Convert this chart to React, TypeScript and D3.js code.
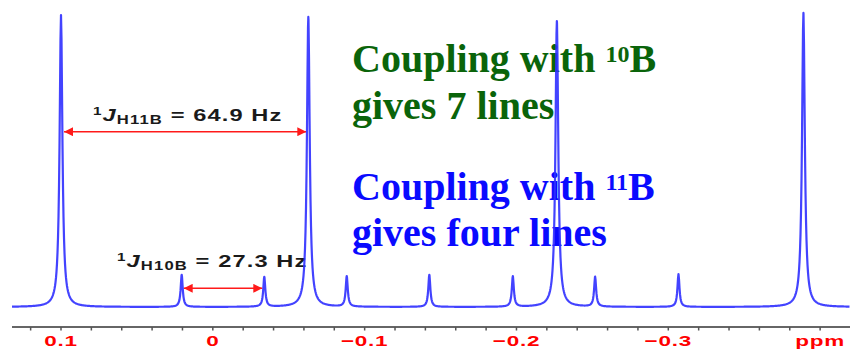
import React from "react";
import * as d3 from "d3";

// Peak list (ppm, relative intensity)
const peakShifts = [0.1, 0.0205, -0.0339, -0.0629, -0.0882, -0.1426, -0.1976, -0.2266, -0.2518, -0.3067, -0.389];
const peakIntensities = [100, 11.0, 10.2, 99.3, 10.4, 11.0, 10.4, 97.9, 10.2, 11.2, 100.7];
const peakIsotope = ["11B", "10B", "10B", "11B", "10B", "10B", "10B", "11B", "10B", "10B", "11B"];

const majorTicks = [0.1, 0, -0.1, -0.2, -0.3, -0.4];
const tickLabels = ["0.1", "0", "\u22120.1", "\u22120.2", "\u22120.3", "ppm"];
const minorTicks = d3.range(-20, 7).map((i) => i * 0.02);

const W = 852;
const H = 350;

export default function App() {
  const x = d3.scaleLinear().domain([0.1, -0.3]).range([61, 668.3]);
  const y = d3.scaleLinear().domain([0, 100]).range([307, 15]);

  const halfWidth = (iso: string) => (iso === "11B" ? 0.0011 : 0.0008);

  const intensityAt = (ppm: number) =>
    peakShifts.reduce((s, p, i) => {
      const g = halfWidth(peakIsotope[i]);
      return s + (peakIntensities[i] * g * g) / ((ppm - p) * (ppm - p) + g * g);
    }, 0);

  const xs = d3.range(12, 850, 0.5).map((px) => x.invert(px)).concat(peakShifts);
  xs.sort((a, b) => b - a);
  const line = d3
    .line<number>()
    .x((d) => x(d))
    .y((d) => y(intensityAt(d)));

  const ax = 327;
  const j11 = [peakShifts[0], peakShifts[3]];
  const j10 = [peakShifts[1], peakShifts[2]];

  const jLabel = (x0: number, y0: number, sub: string, val: string) => (
    <g transform={`translate(${x0},${y0}) scale(1.39,1)`}>
      <text x={0} y={0} fontSize={17} letterSpacing={0.8}>
        <tspan fontSize={11} dy={-6}>1</tspan>
        <tspan fontStyle="italic" dy={6}>J</tspan>
        <tspan fontSize={12} dy={3}>{sub}</tspan>
        <tspan dy={-3}>{` = ${val} Hz`}</tspan>
      </text>
    </g>
  );

  return (
    <svg width={W} height={H} style={{ position: "absolute", left: 0, top: 0, background: "#fff" }}>
      <defs>
        <marker id="ah" viewBox="0 0 10 10" refX="10" refY="5" markerWidth="12" markerHeight="9" markerUnits="userSpaceOnUse" orient="auto-start-reverse">
          <path d="M0,0 L10,5 L0,10 z" fill="#ff1a1a" />
        </marker>
      </defs>

      {/* explanatory text */}
      <g fontFamily="'Liberation Serif', 'Times New Roman', serif" fontWeight="bold" fontSize={40}>
        <text x={352} y={72} fill="#0a640a">
          Coupling with <tspan fontSize={24} dy={-10}>10</tspan>
          <tspan dy={10}>B</tspan>
        </text>
        <text x={352} y={119} fill="#0a640a">gives 7 lines</text>
        <text x={352} y={200} fill="#0a0aff">
          Coupling with <tspan fontSize={24} dy={-10}>11</tspan>
          <tspan dy={10}>B</tspan>
        </text>
        <text x={352} y={246} fill="#0a0aff">gives four lines</text>
      </g>

      {/* coupling constant annotations */}
      <g fontFamily="'Liberation Sans', Arial, sans-serif" fontWeight="bold" fill="#1a1a1a">
        {jLabel(93, 121, "H11B", "64.9")}
        {jLabel(117, 267, "H10B", "27.3")}
      </g>
      <line x1={x(j11[0]) + 3} x2={x(j11[1]) - 2} y1={131.7} y2={131.7} stroke="#ff1a1a" strokeWidth={1.6} markerStart="url(#ah)" markerEnd="url(#ah)" />
      <line x1={x(j10[0]) + 2} x2={x(j10[1]) - 2} y1={288.3} y2={288.3} stroke="#ff1a1a" strokeWidth={1.6} markerStart="url(#ah)" markerEnd="url(#ah)" />

      {/* spectrum */}
      <path d={line(xs) || ""} fill="none" stroke="#2f2fff" strokeOpacity={0.9} strokeWidth={2.2} strokeLinejoin="round" />

      {/* axis */}
      <line x1={12} x2={850} y1={ax} y2={ax} stroke="#666" strokeWidth={2} />
      {minorTicks.map((t) => (
        <line key={t} x1={x(t)} x2={x(t)} y1={ax} y2={ax + 3.5} stroke="#555" strokeWidth={1.5} />
      ))}
      <g fontFamily="'Liberation Sans', Arial, sans-serif" fontWeight="bold" fontSize={15} fill="#ff0000" textAnchor="middle">
        {majorTicks.map((t, i) => (
          <g key={t} transform={`translate(${x(t)},345.5) scale(1.5,1)`}>
            <text x={0} y={0} letterSpacing={0.5}>
              {tickLabels[i]}
            </text>
          </g>
        ))}
      </g>
    </svg>
  );
}
